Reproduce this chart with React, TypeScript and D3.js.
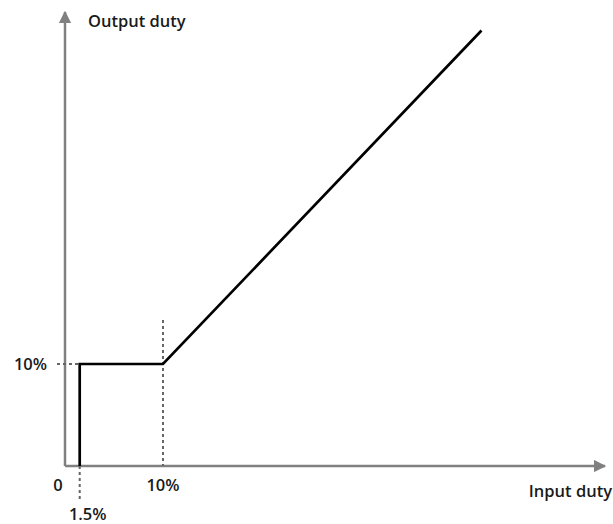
import React from "react";
import * as d3 from "d3";

const curveX = [1.5, 1.5, 10, 42.5];
const curveY = [0, 10, 10, 42.7];
const xTickValues = [0, 10];
const xTickLabels = ["0", "10%"];
const yTickValues = [10];
const yTickLabels = ["10%"];
const markerX = [1.5];
const markerLabels = ["1.5%"];
const xTitle = "Input duty";
const yTitle = "Output duty";

export default function App() {
  const W = 613, H = 524;
  const ox = 65, oy = 466;
  const x = d3.scaleLinear().domain([0, 10]).range([ox, 163]);
  const y = d3.scaleLinear().domain([0, 10]).range([oy, 364]);
  const pts: [number, number][] = curveX.map((v, i) => [x(v), y(curveY[i])]);
  const line = d3.line()(pts) || "";
  const font = "'Open Sans', Lato, sans-serif";
  const gray = "#808080";
  const fs = 16.5;
  const tc = "#1a1a1a";
  const fw = 600;
  return (
    <svg width={W} height={H} style={{ position: "absolute", left: 0, top: 0 }}>
      <defs>
        <marker id="ah" viewBox="0 0 10 10" refX="9" refY="5" markerWidth="5" markerHeight="5" orient="auto">
          <path d="M0,0 L10,5 L0,10 z" fill={gray} />
        </marker>
      </defs>
      <line x1={ox} y1={oy} x2={605} y2={oy} stroke={gray} strokeWidth={2.5} markerEnd="url(#ah)" />
      <line x1={ox} y1={oy} x2={ox} y2={12} stroke={gray} strokeWidth={2.5} markerEnd="url(#ah)" />
      <line x1={x(10)} y1={320} x2={x(10)} y2={oy} stroke="#666" strokeWidth={2} strokeDasharray="3,3" />
      <line x1={57} y1={y(10)} x2={x(1.5)} y2={y(10)} stroke="#666" strokeWidth={2} strokeDasharray="3,3" />
      {markerX.map((m) => (
        <line key={m} x1={x(m)} y1={oy} x2={x(m)} y2={501} stroke="#666" strokeWidth={2} strokeDasharray="3,3" />
      ))}
      <path d={line} fill="none" stroke="#000" strokeWidth={2.7} strokeLinejoin="miter" />
      {xTickValues.map((v, i) => (
        <text key={v} x={v === 0 ? 58 : x(v)} y={491} textAnchor="middle" fontFamily={font} fontSize={fs} fontWeight={fw} fill={tc}>
          {xTickLabels[i]}
        </text>
      ))}
      {yTickValues.map((v, i) => (
        <text key={v} x={47} y={y(v) + 6} textAnchor="end" fontFamily={font} fontSize={fs} fontWeight={fw} fill={tc}>
          {yTickLabels[i]}
        </text>
      ))}
      {markerX.map((m, i) => (
        <text key={m} x={x(m) + 8} y={520} textAnchor="middle" fontFamily={font} fontSize={fs} fontWeight={fw} fill={tc}>
          {markerLabels[i]}
        </text>
      ))}
      <text x={612} y={497} textAnchor="end" fontFamily={font} fontSize={fs} fontWeight={fw} fill={tc}>{xTitle}</text>
      <text x={88} y={27} fontFamily={font} fontSize={fs} fontWeight={fw} fill={tc}>{yTitle}</text>
    </svg>
  );
}
